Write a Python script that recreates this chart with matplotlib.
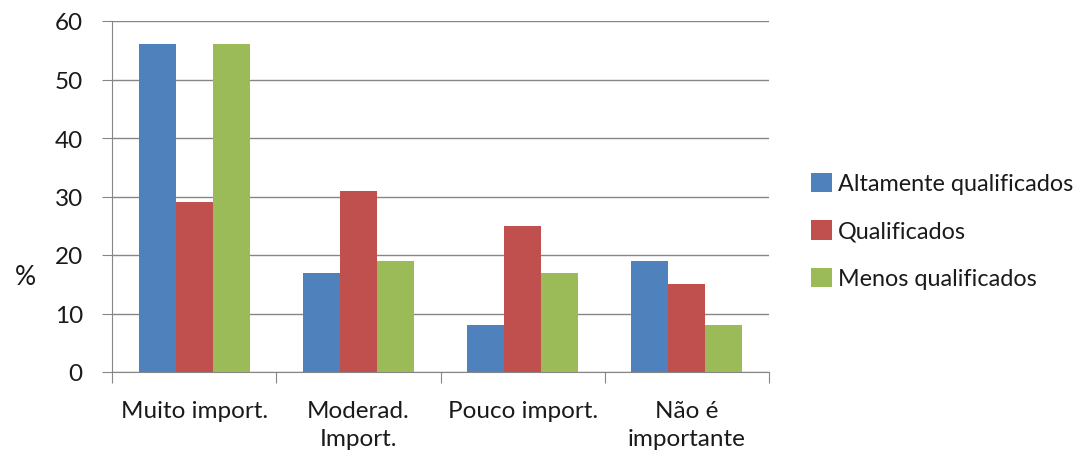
import numpy as np
import matplotlib
matplotlib.use("Agg")
import matplotlib.pyplot as plt

categories = ["Muito import.", "Moderad.\nImport.", "Pouco import.", "Não é\nimportante"]
series = ["Altamente qualificados", "Qualificados", "Menos qualificados"]
altamente = [56, 17, 8, 19]
qualificados = [29, 31, 25, 15]
menos = [56, 19, 17, 8]
colors = ["#4F81BD", "#C0504D", "#9BBB59"]

plt.rcParams["font.family"] = ["Lato", "DejaVu Sans"]

fig = plt.figure(figsize=(10.79, 4.52), dpi=100)
ax = fig.add_axes([112/1079, 1-373/452, (769-112)/1079, (373-22)/452])

x = np.arange(len(categories))
w = 0.225
for i, (vals, name) in enumerate(zip([altamente, qualificados, menos], series)):
    ax.bar(x + (i-1)*w, vals, w, color=colors[i], label=name, zorder=3)

ax.set_xlim(-0.5, len(categories)-0.5)
ax.set_ylim(0, 60)
ax.set_yticks(range(0, 61, 10))
ax.yaxis.grid(True, color="#868686", linewidth=1, zorder=0)
ax.set_axisbelow(True)

ax.set_xticks(np.arange(-0.5, len(categories), 1))
ax.set_xticklabels([])
ax.set_xticks(x, minor=True)
ax.set_xticklabels(categories, minor=True, fontsize=17.5, color="#1a1a1a", linespacing=1.45)
ax.tick_params(axis="x", which="major", length=8, color="#868686")
ax.tick_params(axis="x", which="minor", length=0, pad=20)
ax.tick_params(axis="y", length=7, color="#868686", labelsize=17.5, labelcolor="#1a1a1a", pad=14)

for s in ["top", "right"]:
    ax.spines[s].set_visible(False)
for s in ["left", "bottom"]:
    ax.spines[s].set_color("#868686")

fig.text(25/1079, 1-278/452, "%", fontsize=19, ha="center", va="center", color="#1a1a1a")

leg = ax.legend(loc="center left", bbox_to_anchor=(811/1079, 1-232/452), bbox_transform=fig.transFigure,
                frameon=False, fontsize=16.8, handlelength=0.9, handleheight=0.9, handletextpad=0.25,
                labelspacing=1.1, borderaxespad=0, borderpad=0)
for t in leg.get_texts():
    t.set_color("#1a1a1a")

fig.savefig("out.png", dpi=100)
